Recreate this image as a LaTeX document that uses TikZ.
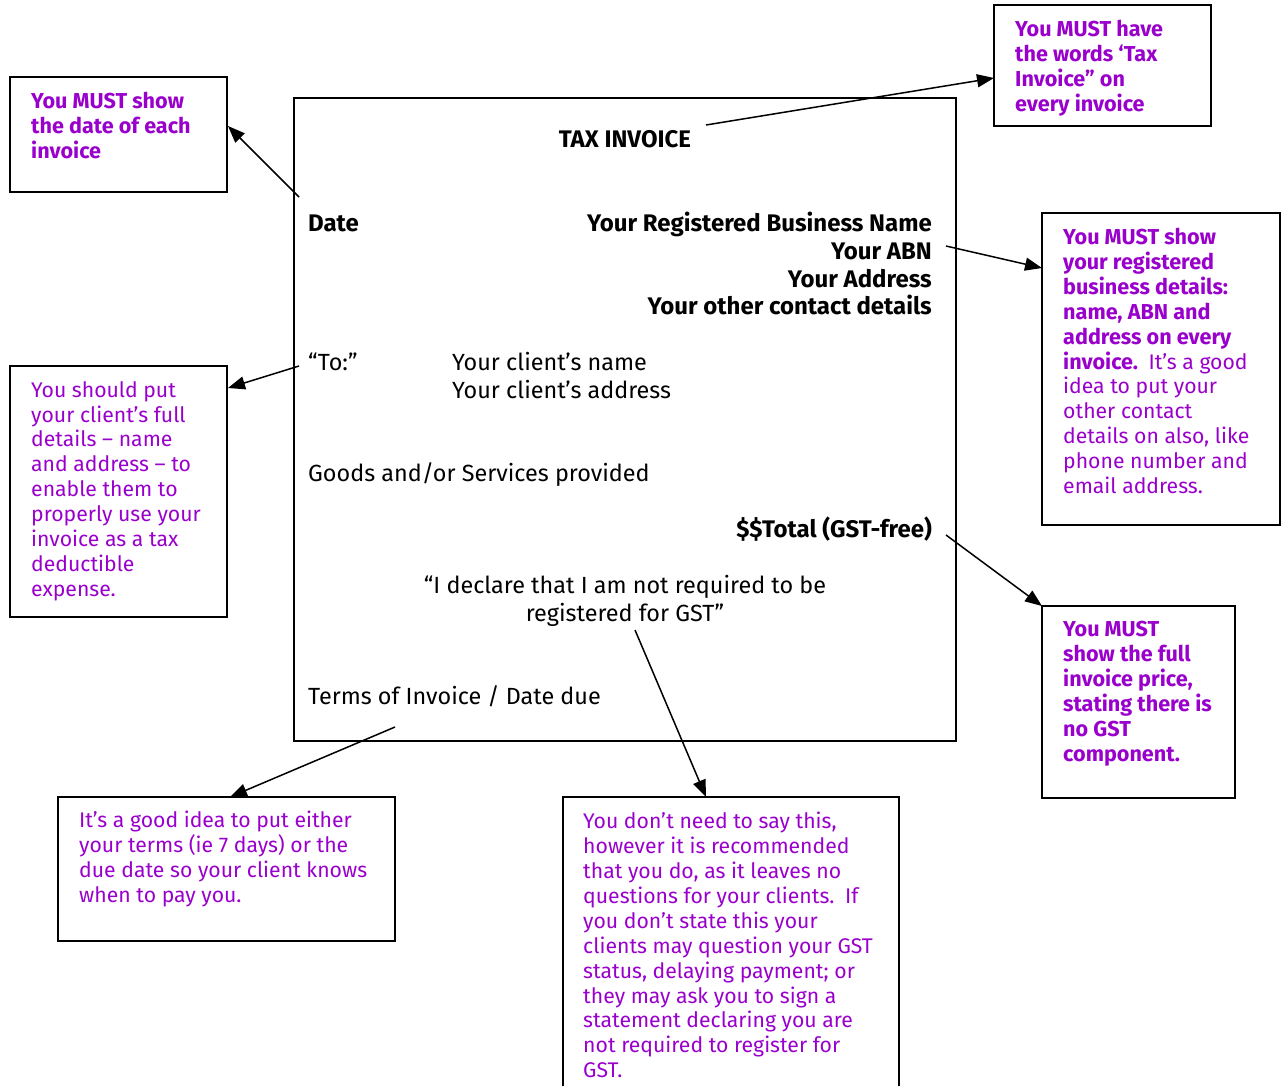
\documentclass[tikz,border=0pt]{standalone}
\usepackage{fontspec}
\setmainfont{Fira Sans}
\usetikzlibrary{arrows.meta,calc}
\definecolor{annot}{RGB}{153,0,204}
\newcommand{\notefont}{\fontsize{21.2}{24.9}\selectfont}
\newcommand{\notebold}{\fontsize{21.6}{24.9}\selectfont\bfseries}
\begin{document}
\begin{tikzpicture}[x=1pt,y=-1pt,
  notebox/.style={draw, line width=1.6pt, anchor=north west, inner sep=0pt, outer sep=0pt},
  notetext/.style={anchor=north west, inner sep=0pt, align=left, text=annot, font=\notefont},
  boldnote/.style={notetext, font=\notebold},
  maintext/.style={inner sep=0pt, font=\fontsize{23.4}{28}\selectfont},
  mainbold/.style={inner sep=0pt, font=\fontsize{24}{28}\selectfont\bfseries},
  pointer/.style={line width=1.5pt, -{Triangle[length=17pt,width=13pt]}}]
\useasboundingbox (0,0) rectangle (1281,1085);
\begin{scope}
\clip (0,0) rectangle (1281,1085);
% invoice frame
\node[notebox, line width=1.8pt, minimum width=662pt, minimum height=643pt] (invoice) at (294,98) {};
% annotation boxes
\node[notebox, minimum width=217pt, minimum height=115pt] (boxA) at (10,77) {};
\node[notebox, minimum width=217pt, minimum height=121pt] (boxB) at (994,5) {};
\node[notebox, minimum width=238pt, minimum height=312pt] (boxC) at (1042,213) {};
\node[notebox, minimum width=193pt, minimum height=192pt] (boxD) at (1042,606) {};
\node[notebox, minimum width=217pt, minimum height=251pt] (boxE) at (10,366) {};
\node[notebox, minimum width=337pt, minimum height=144pt] (boxF) at (58,797) {};
\node[notebox, minimum width=336pt, minimum height=300pt] (boxG) at (563,797) {};
\end{scope}
% annotation texts
\node[boldnote] (tA) at (31,92) {You MUST show\\the date of each\\invoice};
\node[boldnote] (tB) at (1015,20) {You MUST have\\the words ‘Tax\\Invoice” on\\every invoice};
\node[notetext] (tC) at (1063,228) {{\notebold You MUST show}\\{\notebold your registered}\\{\notebold business details:}\\{\notebold name, ABN and}\\{\notebold address on every}\\{\notebold invoice.}\hspace{0.5em}It’s a good\\idea to put your\\other contact\\details on also, like\\phone number and\\email address.};
\node[boldnote] (tD) at (1063,621) {You MUST\\show the full\\invoice price,\\stating there is\\no GST\\component.};
\node[notetext] (tE) at (31,381) {You should put\\your client’s full\\details – name\\and address – to\\enable them to\\properly use your\\invoice as a tax\\deductible\\expense.};
\node[notetext] (tF) at (79,811) {It’s a good idea to put either\\your terms (ie 7 days) or the\\due date so your client knows\\when to pay you.};
\node[notetext] (tG) at (583,812) {You don’t need to say this,\\however it is recommended\\that you do, as it leaves no\\questions for your clients.\hspace{0.5em}If\\you don’t state this your\\clients may question your GST\\status, delaying payment; or\\they may ask you to sign a\\statement declaring you are\\not required to register for\\GST.};
% invoice contents
\node[mainbold, anchor=base] (title) at (625,147) {TAX INVOICE};
\node[mainbold, anchor=base west] (date) at (308,231) {Date};
\node[mainbold, anchor=base east] (bname) at (932,231) {Your Registered Business Name};
\node[mainbold, anchor=base east] (abn) at (932,259) {Your ABN};
\node[mainbold, anchor=base east] (addr) at (932,287) {Your Address};
\node[mainbold, anchor=base east] (contact) at (932,314) {Your other contact details};
\node[maintext, anchor=base west] (to) at (308,370) {“To:”};
\node[maintext, anchor=base west] (cname) at (452,370) {Your client’s name};
\node[maintext, anchor=base west] (caddr) at (452,398) {Your client’s address};
\node[maintext, anchor=base west] (goods) at (308,481) {Goods and/or Services provided};
\node[mainbold, anchor=base east] (total) at (932,537) {\$\$Total (GST-free)};
\node[maintext, anchor=base] (decl1) at (625,593) {“I declare that I am not required to be};
\node[maintext, anchor=base] (decl2) at (625,621) {registered for GST”};
\node[maintext, anchor=base west] (terms) at (308,704) {Terms of Invoice / Date due};
% connector start points
\coordinate (sA) at (299,197);
\coordinate (sB) at (706,125);
\coordinate (sC) at (946,246);
\coordinate (sE) at (299,366);
\coordinate (sD) at (946,535);
\coordinate (sG) at (635,630);
\coordinate (sF) at (395,727);
% connectors
\draw[pointer] (sA) -- ($(boxA.north east)+(1,49)$);
\draw[pointer] (sB) -- ($(boxB.north west)+(0,73)$);
\draw[pointer] (sC) -- ($(boxC.north west)+(0,55)$);
\draw[pointer] (sE) -- ($(boxE.north east)+(1,22)$);
\draw[pointer] (sD) -- (boxD.north west);
\draw[pointer] (sG) -- ($(boxG.north west)+(143,0)$);
\draw[pointer] (sF) -- ($(boxF.north west)+(172,0)$);
\end{tikzpicture}
\end{document}
